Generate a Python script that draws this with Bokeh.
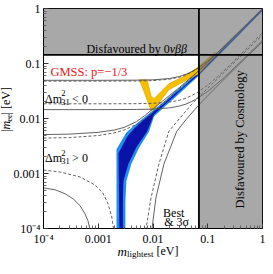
import math
from bokeh.plotting import figure
from bokeh.layouts import row, column
from bokeh.models import Label, Span, FixedTicker, CustomJSTickFormatter
from bokeh.embed import file_html
from bokeh.resources import INLINE

# ---------------- data ----------------
tick_values = [1e-4, 1e-3, 1e-2, 1e-1, 1.0]
tick_labels = ["10\u207b\u2074", "0.001", "0.01", "0.1", "1"]

bound_0vbb = 0.143     # |m_ee| limit
bound_cosmo = 0.069    # m_lightest limit

# inverted ordering (Delta m^2_31 < 0)
io_m = [1e-4, 1e-3, 0.005, 0.01, 0.02, 0.03, 0.04, 0.05, 0.06, 0.07, 0.1, 0.15, 0.2, 0.3, 0.5, 0.7, 1.0]
io_max_3s = [0.0495, 0.0495, 0.0498, 0.0505, 0.0534, 0.0579, 0.0636, 0.0704, 0.0778, 0.0857, 0.1116, 0.158, 0.206, 0.304, 0.502, 0.702, 1.0]
io_max_best = [0.0478, 0.0478, 0.0481, 0.0488, 0.0518, 0.0564, 0.0623, 0.0692, 0.0767, 0.0848, 0.1108, 0.1574, 0.2056, 0.3038, 0.5023, 0.7016, 1.0011]
io_min_best = [0.0185, 0.0185, 0.0186, 0.0189, 0.0199, 0.0214, 0.0234, 0.0259, 0.0285, 0.0314, 0.0405, 0.0573, 0.0745, 0.110, 0.182, 0.254, 0.362]
io_min_3s = [0.0145, 0.0145, 0.0146, 0.0148, 0.0156, 0.0168, 0.0183, 0.0202, 0.0223, 0.0245, 0.0312, 0.0435, 0.056, 0.082, 0.134, 0.187, 0.266]

# normal ordering (Delta m^2_31 > 0)
no_max_m = [1e-4, 3e-4, 1e-3, 2e-3, 3e-3, 5e-3, 7e-3, 0.01, 0.015, 0.02, 0.03, 0.05, 0.07, 0.1, 0.2, 0.5, 1.0]
no_max_3s = [0.0051, 0.0052, 0.0056, 0.0062, 0.0069, 0.0088, 0.0112, 0.0150, 0.0208, 0.0262, 0.0362, 0.0560, 0.0758, 0.1057, 0.2052, 0.503, 1.0]
no_max_best = [0.0044, 0.0045, 0.0049, 0.0055, 0.0062, 0.0078, 0.0098, 0.0132, 0.0188, 0.0243, 0.0345, 0.0550, 0.0752, 0.1053, 0.205, 0.503, 1.0]

no_min_3s_left_m = [1e-4, 1.645e-4, 2.49e-4, 3.47e-4, 4.65e-4, 5.71e-4, 6.47e-4, 7.03e-4, 7.33e-4]
no_min_3s_left = [5.48e-4, 5.04e-4, 4.27e-4, 3.47e-4, 2.6e-4, 1.86e-4, 1.39e-4, 1.0e-4, 6.1e-5]
no_min_best_left_m = [1e-4, 2.02e-4, 4.65e-4, 8.65e-4, 1.205e-3, 1.483e-3, 1.75e-3, 1.90e-3, 1.98e-3]
no_min_best_left = [1.156e-3, 1.064e-3, 8.65e-4, 6.21e-4, 4.45e-4, 2.94e-4, 1.71e-4, 1.0e-4, 4.94e-5]
no_min_3s_right_m = [9.4e-3, 9.6e-3, 0.01132, 0.0158, 0.0271, 0.04, 0.07, 0.1, 0.2, 0.5, 1.0]
no_min_3s_right = [6.1e-5, 1.0e-4, 3.62e-4, 1.48e-3, 5.83e-3, 0.0095, 0.018, 0.026, 0.052, 0.128, 0.248]
no_min_best_right_m = [7.33e-3, 7.48e-3, 9.2e-3, 0.01282, 0.01941, 0.03, 0.05, 0.07, 0.1, 0.2, 0.5, 1.0]
no_min_best_right = [6.1e-5, 1.0e-4, 3.62e-4, 1.48e-3, 5.83e-3, 0.0098, 0.0178, 0.0255, 0.0355, 0.069, 0.168, 0.332]

# model prediction band (3 sigma, light) and best fit (dark)
band3s_m = [0.002154, 0.002154, 0.003263, 0.004547, 0.006885, 0.010423, 0.015784, 0.023900, 0.036195, 0.067454, 0.288, 1.0,
            1.0, 0.288, 0.067454, 0.036195, 0.023900, 0.015784, 0.010423, 0.008472, 0.005595, 0.004014, 0.003263, 0.00313, 0.00313]
band3s_mee = [8e-5, 0.002762, 0.005593, 0.007480, 0.010423, 0.014527, 0.020245, 0.029404, 0.041001, 0.070291, 0.288, 1.021,
              0.9016, 0.25424, 0.059533, 0.033300, 0.022932, 0.015784, 0.010864, 0.005830, 0.002982, 0.001486, 0.000733, 0.000300, 8e-5]
bandbf_m = [0.002441, 0.002341, 0.003401, 0.004547, 0.006885, 0.010423, 0.015784, 0.023900, 0.036195, 0.067454, 0.288, 1.0,
            1.0, 0.288, 0.067454, 0.036195, 0.023900, 0.015784, 0.010423, 0.007798, 0.004939, 0.003543, 0.002880, 0.002820, 0.002820]
bandbf_mee = [8e-5, 0.002341, 0.004738, 0.006603, 0.009594, 0.013366, 0.018635, 0.027063, 0.037730, 0.067454, 0.27630, 0.9795,
              0.9397, 0.26504, 0.062064, 0.036195, 0.024913, 0.017145, 0.011803, 0.005830, 0.002982, 0.001486, 0.000733, 0.000300, 8e-5]

# GMSS p = -1/3 band
gmss_m = [0.005595, 0.006885, 0.008126, 0.009204, 0.010864, 0.013366, 0.019425, 0.036195, 0.067454, 0.09795, 0.13649,
          0.13649, 0.09795, 0.067454, 0.036195, 0.019425, 0.013366, 0.010423, 0.009204, 0.007798]
gmss_mee = [0.050437, 0.030653, 0.019425, 0.013933, 0.015143, 0.020245, 0.033300, 0.046780, 0.064693, 0.097948, 0.13649,
            0.16116, 0.12058, 0.086479, 0.057760, 0.042714, 0.029404, 0.022932, 0.025970, 0.050437]

# ---------------- main figure ----------------
SERIF = "Liberation Serif"

p = figure(width=255, height=248, x_axis_type="log", y_axis_type="log",
           x_range=(1e-4, 1.0), y_range=(1e-4, 1.0),
           output_backend="svg", toolbar_location=None,
           min_border_left=30, min_border_right=3, min_border_top=8, min_border_bottom=18,
           margin=(0, 0, 0, -30))
p.grid.visible = False
p.background_fill_color = "white"
p.border_fill_color = "white"
p.border_fill_alpha = 0
p.outline_line_color = "black"
p.outline_line_width = 1

minor = [k * t for t in tick_values[:-1] for k in range(2, 10)]
fmt_code = "const i = Math.round(Math.log10(tick)) + 4; return (i >= 0 && i < labels.length) ? labels[i] : '';"

for ax in (p.xaxis[0], p.yaxis[0]):
    ax.ticker = FixedTicker(ticks=tick_values, minor_ticks=minor)
    ax.formatter = CustomJSTickFormatter(args=dict(labels=tick_labels), code=fmt_code)
    ax.major_label_text_font = SERIF
    ax.major_label_text_font_size = "12px"
    ax.major_label_text_color = "black"
    ax.major_tick_in = 5
    ax.major_tick_out = 0
    ax.minor_tick_in = 3
    ax.minor_tick_out = 0
    ax.major_tick_line_color = "#333333"
    ax.minor_tick_line_color = "#666666"
    ax.axis_line_color = "black"
p.xaxis.major_label_standoff = 3
p.yaxis.major_label_standoff = 3

# bands
p.patch(band3s_m, band3s_mee, fill_color="#1e8ff0", line_color=None)
p.patch(bandbf_m, bandbf_mee, fill_color="#0a12a8", line_color=None)
p.patch(gmss_m, gmss_mee, fill_color="#f5c000", line_color="#e0a300", line_width=0.7)

# boundary curves: solid = 3 sigma, dashed = best fit
GREY = "#505050"
LW = 0.9
curves = [
    (io_m, io_max_3s, "solid"), (io_m, io_max_best, "3 2"),
    (io_m, io_min_3s, "solid"), (io_m, io_min_best, "3 2"),
    (no_max_m, no_max_3s, "solid"), (no_max_m, no_max_best, "3 2"),
    (no_min_3s_left_m, no_min_3s_left, "solid"), (no_min_best_left_m, no_min_best_left, "3 2"),
    (no_min_3s_right_m, no_min_3s_right, "solid"), (no_min_best_right_m, no_min_best_right, "3 2"),
]
for xs, ys, dash in curves:
    p.line(xs, ys, line_color=GREY, line_width=LW, line_dash=dash)

# disfavoured regions
p.quad(left=[1e-4], right=[bound_cosmo], bottom=[bound_0vbb], top=[1.0],
       fill_color="#6e6e6e", fill_alpha=0.6, line_color=None)
p.quad(left=[bound_cosmo], right=[1.0], bottom=[1e-4], top=[1.0],
       fill_color="#6e6e6e", fill_alpha=0.6, line_color=None)
p.add_layout(Span(location=bound_0vbb, dimension="width", line_color="black", line_width=1.8))
p.add_layout(Span(location=bound_cosmo, dimension="height", line_color="black", line_width=1.8))

# ---------------- texts inside the frame ----------------
def px_x(px):
    return 10 ** ((px - 48) / 55.5 - 4)

def px_y(py):
    return 10 ** (-(py - 16) / 55.5)

def lab(x, y, text, size="12px", color="black", style="normal", align="left",
        baseline="alphabetic", angle=0.0):
    p.add_layout(Label(x=px_x(x), y=px_y(y), text=text, text_font=SERIF,
                       text_font_size=size, text_color=color, text_font_style=style,
                       text_align=align, text_baseline=baseline, angle=angle))

lab(176, 57, "Disfavoured by 0", align="right")
lab(176, 57, "\u03bd\u03b2\u03b2", style="italic")
lab(55, 80, "GMSS: p=\u22121/3", size="12.5px", color="#ee1515")

for base in (107, 167):
    lab(49.5, base, "\u0394m")
    lab(66, base - 5.5, "2", size="8.5px")
    lab(66, base + 3, "31", size="8.5px")
lab(77, 107, "< 0")
lab(77, 167, "> 0")

lab(180, 222, "Best", align="center")
lab(183, 231, "& 3\u03c3", align="center")
lab(247, 148, "Disfavoured by Cosmology", size="12.5px", align="center",
    baseline="middle", angle=math.pi / 2)

# ---------------- axis titles (own small canvases) ----------------
YW, YH = 48, 248          # y-title strip: page x 0..48, y 8..256 (main plot overlaps its right part)
yfig = figure(width=YW, height=YH, x_range=(0, YW), y_range=(0, YH),
              output_backend="svg", toolbar_location=None,
              x_axis_location=None, y_axis_location=None,
              min_border=0, outline_line_color=None, margin=(0, 0, 0, -8))
yfig.grid.visible = False

def ylab(page_x, page_y, text, size="12px", style="normal"):
    yfig.add_layout(Label(x=page_x, y=256 - page_y, text=text,
                          text_font=SERIF, text_font_size=size, text_color="black",
                          text_font_style=style, text_align="left",
                          text_baseline="alphabetic", angle=math.pi / 2))

ylab(13.5, 147, "|")
ylab(13.5, 144.5, "m", style="italic")
ylab(16, 135.8, "ee", size="9px")
ylab(13.5, 127.5, "| [eV]")

XW, XH = 265, 18          # x-title strip: page x 8..273, y 249..267
xfig = figure(width=XW, height=XH, x_range=(0, XW), y_range=(0, XH),
              output_backend="svg", toolbar_location=None,
              x_axis_location=None, y_axis_location=None,
              min_border=0, outline_line_color=None, margin=(-7, 0, 0, 0))
xfig.grid.visible = False
xfig.background_fill_alpha = 0
xfig.border_fill_alpha = 0

def xlab(page_x, page_y, text, size="12px", style="normal"):
    xfig.add_layout(Label(x=page_x - 8, y=267 - page_y, text=text,
                          text_font=SERIF, text_font_size=size, text_color="black",
                          text_font_style=style, text_align="left",
                          text_baseline="alphabetic"))

xlab(125, 258.5, "m", size="13px", style="italic")
xlab(134.5, 261.5, "lightest", size="9px")
xlab(164, 258.5, "[eV]")

layout = column(row(yfig, p), xfig)
open("out.html", "w").write(file_html(layout, INLINE))
